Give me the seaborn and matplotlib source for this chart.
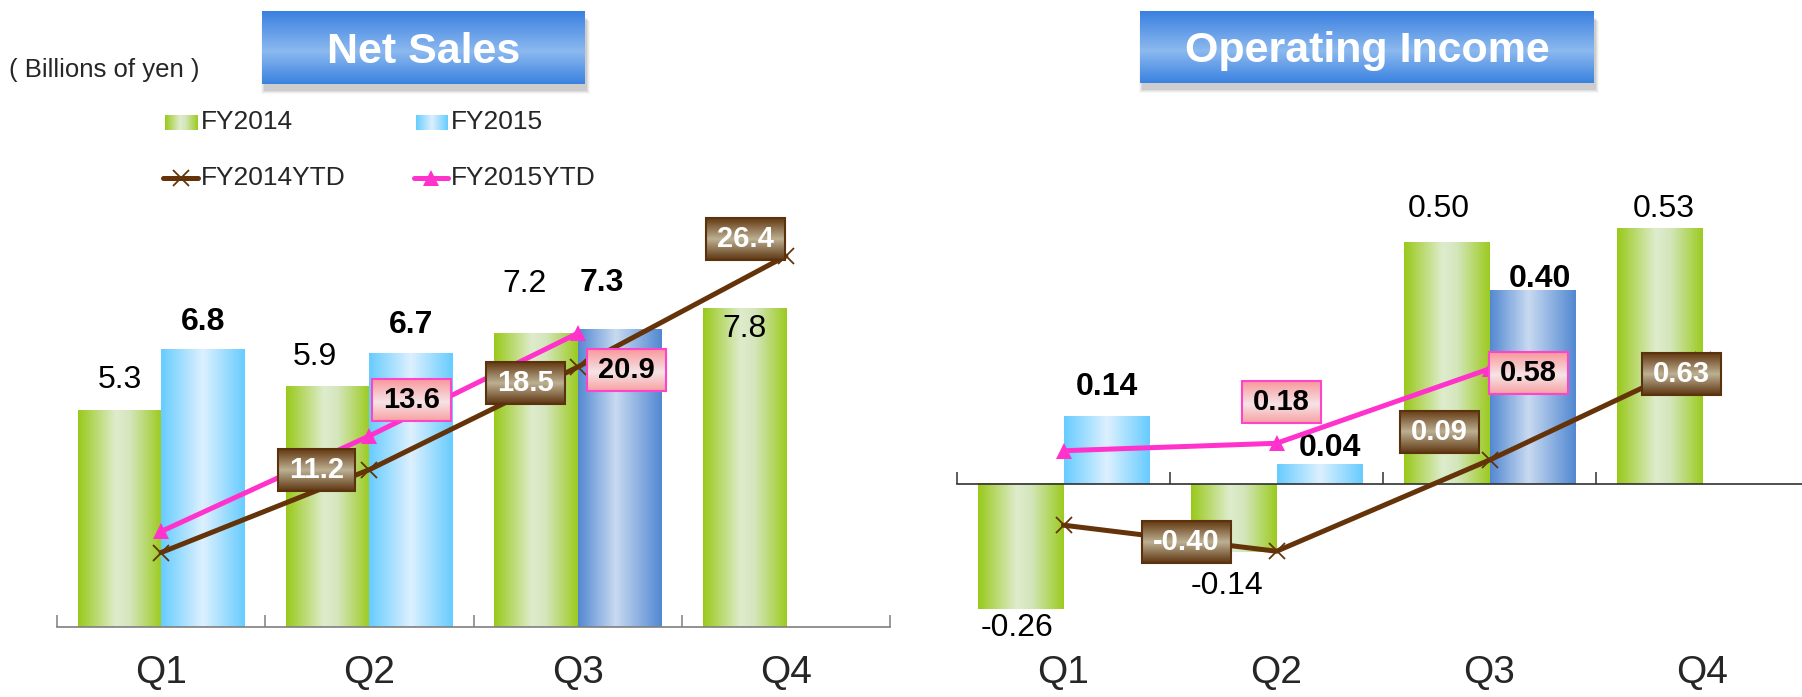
import numpy as np
import pandas as pd
import matplotlib
matplotlib.use("Agg")
import matplotlib.pyplot as plt
import seaborn as sns
from matplotlib.colors import LinearSegmentedColormap
from matplotlib.patches import Rectangle
from matplotlib.lines import Line2D

# ---------------- data ----------------
categories = ["Q1", "Q2", "Q3", "Q4"]
series_names = ["FY2014", "FY2015"]
ytd_names = ["FY2014YTD", "FY2015YTD"]

ns_fy2014 = [5.3, 5.9, 7.2, 7.8]
ns_fy2015 = [6.8, 6.7, 7.3, np.nan]
ns_ytd2014 = [5.3, 11.2, 18.5, 26.4]
ns_ytd2015 = [6.8, 13.6, 20.9, np.nan]

oi_fy2014 = [-0.26, -0.14, 0.50, 0.53]
oi_fy2015 = [0.14, 0.04, 0.40, np.nan]
oi_ytd2014 = [-0.26, -0.40, 0.09, 0.63]
oi_ytd2015 = [0.14, 0.18, 0.58, np.nan]

title_left = "Net Sales"
title_right = "Operating Income"
unit_text = "( Billions of yen )"

# ---------------- style ----------------
sns.set_style("white")
plt.rcParams["font.family"] = ["Liberation Sans", "DejaVu Sans"]

W, H = 1802, 697
BROWN = "#653309"
MAGENTA = "#FF33CC"
GREEN_STOPS = [(0, "#99C91A"), (0.45, "#DEECCD"), (0.62, "#D4E6BC"), (1, "#9BCB1F")]
LBLUE_STOPS = [(0, "#66CCFF"), (0.5, "#DDF0FE"), (1, "#66CCFF")]
DBLUE_STOPS = [(0, "#5288D2"), (0.45, "#C8DAF0"), (1, "#5288D2")]
BROWNBOX_STOPS = [(0, "#633810"), (0.5, "#BCB093"), (1, "#5E3510")]
PINKBOX_STOPS = [(0, "#F8979A"), (0.55, "#F6E4E6"), (1, "#F8A0A2")]
TITLE_STOPS = [(0, "#3A80E0"), (0.55, "#8CB9EF"), (1, "#3A82E0")]


def grad(stops, n=256, vertical=False):
    cmap = LinearSegmentedColormap.from_list("g", stops)
    c = cmap(np.linspace(0, 1, n))[:, :3]
    return c[:, None, :] if vertical else c[None, :, :]


def fig_rect(x0, y0, x1, y1):
    return [x0 / W, 1 - y1 / H, (x1 - x0) / W, (y1 - y0) / H]


fig = plt.figure(figsize=(W / 100, H / 100), dpi=100)

axL = fig.add_axes(fig_rect(57, 200, 890, 627))
axR = fig.add_axes(fig_rect(957, 200, 1809, 627))

xs = np.arange(len(categories))
boxes = []  # (text artist, axis, stops, edgecolor)


def draw_chart(ax, v14, v15, y14, y15, fmt, ylim, ylim2, fy15_styles,
               off14, off15, yoff14, yoff15, spine_color, label_pad, zero_spine):
    df = pd.DataFrame({
        "Quarter": categories * 2,
        "Series": [series_names[0]] * 4 + [series_names[1]] * 4,
        "Value": list(v14) + list(v15),
    }).dropna()
    sns.barplot(data=df, x="Quarter", y="Value", hue="Series", order=categories,
                hue_order=series_names, palette=["#9ACA1E", "#66CCFF"],
                errorbar=None, width=0.8, saturation=1, legend=False, ax=ax)
    ax.set_xlim(-0.5, len(categories) - 0.5)
    ax.set_ylim(*ylim)
    ax.set_autoscale_on(False)

    vals = [v14, v15]
    offs = [off14, off15]
    for p in list(ax.patches):
        bx, by, bw, bh = p.get_x(), p.get_y(), p.get_width(), p.get_height()
        if not np.isfinite(bh) or bh == 0:
            continue
        xc = bx + bw / 2
        ci = int(round(xc))
        hi = 0 if xc < ci else 1
        if hi == 0:
            stops = GREEN_STOPS
        else:
            stops = DBLUE_STOPS if fy15_styles[ci] == "dark" else LBLUE_STOPS
        y0, y1 = sorted([by, by + bh])
        ax.imshow(grad(stops), extent=[bx, bx + bw, y0, y1], aspect="auto",
                  interpolation="bilinear", zorder=2)
        p.set_facecolor("none")
        p.set_edgecolor("none")
        v = vals[hi][ci]
        dx, dy = offs[hi][ci]
        ax.annotate(fmt.format(v), xy=(xc, v), xytext=(dx, dy),
                    textcoords="offset pixels", ha="center", va="center",
                    fontsize=23, fontweight="bold" if hi == 1 else "normal",
                    color="black", zorder=5, annotation_clip=False)

    # axis styling
    for s in ["top", "left", "right"]:
        ax.spines[s].set_visible(False)
    ax.spines["bottom"].set_color(spine_color)
    ax.spines["bottom"].set_linewidth(1.2)
    if zero_spine:
        ax.spines["bottom"].set_position(("data", 0))
    ax.set_yticks([])
    ax.set_xticks(xs)
    ax.set_xticklabels(categories, fontsize=28)
    ax.set_xticks(np.arange(-0.5, len(categories), 1.0), minor=True)
    ax.tick_params(axis="x", which="major", bottom=True, length=0, pad=label_pad)
    ax.tick_params(axis="x", which="minor", bottom=True, direction="in",
                   length=9, width=1.1, color=spine_color)
    ax.set_xlabel("")
    ax.set_ylabel("")

    # YTD lines on secondary scale
    ax2 = ax.twinx()
    sns.lineplot(x=xs, y=y14, ax=ax2, color=BROWN, lw=3.6, marker="x",
                 markersize=11, markeredgewidth=1.3, markeredgecolor=BROWN, zorder=3)
    sns.lineplot(x=xs, y=y15, ax=ax2, color=MAGENTA, lw=3.6, marker="^",
                 markersize=12, markeredgewidth=0, markerfacecolor=MAGENTA, zorder=3)
    ax2.set_ylim(*ylim2)
    ax2.set_xlim(-0.5, len(categories) - 0.5)
    ax2.set_autoscale_on(False)
    ax2.set_yticks([])
    ax2.set_ylabel("")
    for s in ax2.spines.values():
        s.set_visible(False)

    for series, offsets, stops, ec, tc in [
        (y14, yoff14, BROWNBOX_STOPS, "#5A320E", "white"),
        (y15, yoff15, PINKBOX_STOPS, "#FF44CC", "black"),
    ]:
        for i, v in enumerate(series):
            if offsets[i] is None or not np.isfinite(v):
                continue
            dx, dy = offsets[i]
            t = ax2.annotate(fmt.format(v), xy=(xs[i], v), xytext=(dx, dy),
                             textcoords="offset pixels", ha="center", va="center",
                             fontsize=21, fontweight="bold", color=tc, zorder=6,
                             annotation_clip=False)
            boxes.append((t, ax2, stops, ec))
    return ax2


# label offsets in pixels (dx, dy up)
ns_off14 = [(0, 31), (-13, 29), (-11, 49), (0, -20)]
ns_off15 = [(0, 28), (0, 29), (-17, 46), (0, 0)]
ns_yoff14 = [None, (-53, 0), (-52, -16), (-40, 17)]
ns_yoff15 = [None, (42, 36), (49, -37), None]

oi_off14 = [(-4, -19), (-7, -34), (-8, 34), (4, 19)]
oi_off15 = [(1, 29), (11, 17), (8, 12), (0, 0)]
oi_yoff14 = [None, (-90, 9), (-50, 28), (-21, -14)]
oi_yoff15 = [None, (5, 41), (39, -4), None]

draw_chart(axL, ns_fy2014, ns_fy2015, ns_ytd2014, ns_ytd2015, "{:.1f}",
           (0, 10.466), (0, 30.39), ["light", "light", "dark", "light"],
           ns_off14, ns_off15, ns_yoff14, ns_yoff15, "#7F7F7F", 20, False)
draw_chart(axR, oi_fy2014, oi_fy2015, oi_ytd2014, oi_ytd2015, "{:.2f}",
           (-0.2963, 0.5885), (-0.807, 1.487), ["light", "light", "dark", "light"],
           oi_off14, oi_off15, oi_yoff14, oi_yoff15, "#303030", 123, True)

# gradient boxes behind YTD labels
fig.canvas.draw()
renderer = fig.canvas.get_renderer()
for t, a2, stops, ec in boxes:
    bb = t.get_window_extent(renderer)
    inv = a2.transData.inverted()
    (x0, y0) = inv.transform((bb.x0 - 11, bb.y0 - 7))
    (x1, y1) = inv.transform((bb.x1 + 11, bb.y1 + 7))
    a2.imshow(grad(stops, vertical=True), extent=[x0, x1, y0, y1], aspect="auto",
              interpolation="bilinear", zorder=4, clip_on=False)
    a2.add_patch(Rectangle((x0, y0), x1 - x0, y1 - y0, fill=False, ec=ec,
                           lw=1.5, zorder=4.5, clip_on=False))

# title boxes with shadow
for (x0, y0, x1, y1), title in [((262, 11, 585, 84), title_left),
                                ((1140, 11, 1594, 83), title_right)]:
    for k, a in enumerate([0.10, 0.08, 0.06, 0.04]):
        fig.patches.append(Rectangle(((x0 + 2 - k) / W, 1 - (y1 + 7 + k) / H),
                                     (x1 - x0 + 2 * k) / W, (y1 - y0) / H,
                                     transform=fig.transFigure, fc="#404040",
                                     ec="none", alpha=a, zorder=-5))
    tax = fig.add_axes(fig_rect(x0, y0, x1, y1))
    tax.set_zorder(5)
    tax.imshow(grad(TITLE_STOPS, vertical=True), aspect="auto", interpolation="bilinear")
    tax.set_axis_off()
    tax.text(0.5, 0.44, title, transform=tax.transAxes, ha="center", va="center",
             fontsize=31, fontweight="bold", color="white")

fig.text(9 / W, 1 - 70 / H, unit_text, ha="left", va="center", fontsize=18.5)

# legend
leg_items = [
    ((165, 115, 198, 130), GREEN_STOPS, series_names[0], (201, 122)),
    ((416, 115, 448, 130), LBLUE_STOPS, series_names[1], (451, 122)),
]
for rect, stops, name, (tx, ty) in leg_items:
    lax = fig.add_axes(fig_rect(*rect))
    lax.imshow(grad(stops), aspect="auto", interpolation="bilinear")
    lax.set_axis_off()
    fig.text(tx / W, 1 - ty / H, name, ha="left", va="center", fontsize=19)

for (lx0, lx1, ly), col, mk, name in [((163, 198, 178), BROWN, "x", ytd_names[0]),
                                      ((414, 448, 178), MAGENTA, "^", ytd_names[1])]:
    fig.add_artist(Line2D([lx0 / W, lx1 / W], [1 - ly / H] * 2, transform=fig.transFigure,
                          color=col, lw=3.6, solid_capstyle="round"))
    if mk == "x":
        fig.add_artist(Line2D([(lx0 + lx1) / 2 / W], [1 - ly / H], transform=fig.transFigure,
                              marker="x", ms=11, mew=1.3, mec=col, ls="none"))
    else:
        fig.add_artist(Line2D([(lx0 + lx1) / 2 / W], [1 - ly / H], transform=fig.transFigure,
                              marker="^", ms=12, mew=0, mfc=col, ls="none"))
    fig.text((lx1 + 3) / W, 1 - ly / H, name, ha="left", va="center", fontsize=19)

fig.savefig("out.png", dpi=100)
